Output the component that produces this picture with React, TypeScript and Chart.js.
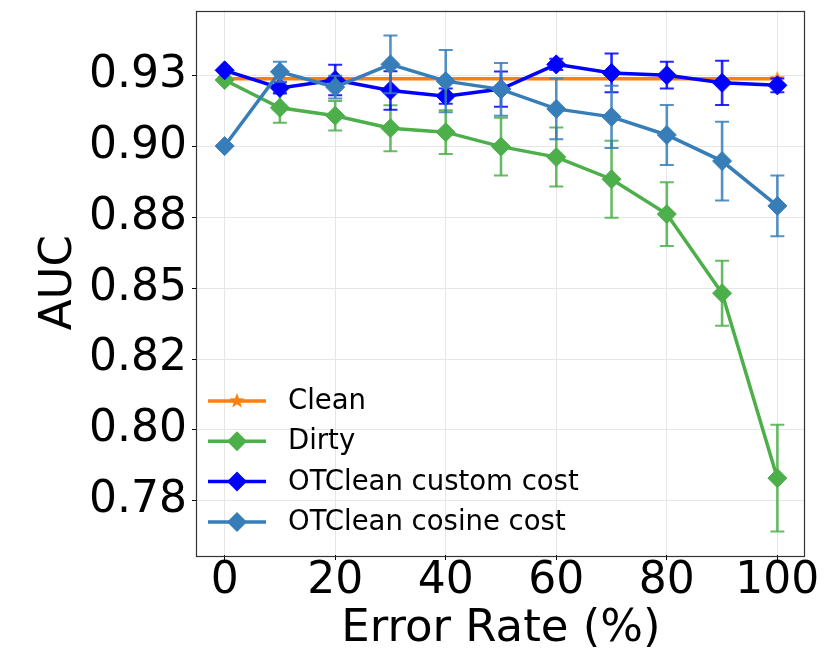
import React, { useEffect, useRef } from "react";
import { Chart, registerables } from "chart.js";

Chart.register(...registerables);

// ---------- data ----------
const errorRates = [0, 10, 20, 30, 40, 50, 60, 70, 80, 90, 100];

const cleanX = [0, 100];
const cleanAUC = [0.9238, 0.9238];

const dirtyAUC = [0.9234, 0.9136, 0.9108, 0.9064, 0.905, 0.8999, 0.8962, 0.8884, 0.8761, 0.8482, 0.783];
const dirtyErr = [0.0, 0.0053, 0.0052, 0.0081, 0.0077, 0.0102, 0.0104, 0.0136, 0.0112, 0.0115, 0.0188];

const customAUC = [0.9268, 0.9206, 0.9234, 0.9197, 0.9177, 0.9202, 0.9289, 0.9259, 0.9251, 0.9224, 0.9215];
const customErr = [0.0, 0.002, 0.0054, 0.0068, 0.0027, 0.0062, 0.002, 0.0068, 0.0047, 0.0078, 0.0024];

const cosineAUC = [0.9001, 0.9263, 0.9209, 0.9289, 0.923, 0.9201, 0.9132, 0.9104, 0.904, 0.8948, 0.879];
const cosineErr = [0.0, 0.0035, 0.004, 0.0102, 0.011, 0.0093, 0.0107, 0.011, 0.0106, 0.0139, 0.0107];

const seriesNames = ["Clean", "Dirty", "OTClean custom cost", "OTClean cosine cost"];
const seriesColors = ["#ff7f0e", "#4daf4a", "#0000ff", "#377eb8"];

const xTickValues = [0, 20, 40, 60, 80, 100];
const yTickValues = [0.775, 0.8, 0.825, 0.85, 0.875, 0.9, 0.925];
const yTickLabels = ["0.78", "0.80", "0.82", "0.85", "0.88", "0.90", "0.93"];

const xTitle = "Error Rate (%)";
const yTitle = "AUC";

const FONT = "'DejaVu Sans', sans-serif";

function makeStar(color: string, r: number): HTMLCanvasElement {
  const size = Math.ceil(r * 2 + 2);
  const c = document.createElement("canvas");
  c.width = size;
  c.height = size;
  const ctx = c.getContext("2d")!;
  ctx.beginPath();
  for (let i = 0; i < 10; i++) {
    const ang = -Math.PI / 2 + (i * Math.PI) / 5;
    const rr = i % 2 === 0 ? r : r * 0.42;
    ctx.lineTo(size / 2 + rr * Math.cos(ang), size / 2 + rr * Math.sin(ang));
  }
  ctx.closePath();
  ctx.fillStyle = color;
  ctx.fill();
  return c;
}

const errorBarPlugin = {
  id: "errorBars",
  beforeDatasetDraw(chart: any, args: any) {
    const ds: any = chart.data.datasets[args.index];
    if (!ds.errors) return;
    const ctx = chart.ctx;
    const xs = chart.scales.x;
    const ys = chart.scales.y;
    ctx.save();
    ctx.strokeStyle = ds.borderColor;
    ctx.globalAlpha = 0.85;
    ds.data.forEach((p: any, i: number) => {
      const e = ds.errors[i];
      if (!e) return;
      const px = xs.getPixelForValue(p.x);
      const top = ys.getPixelForValue(p.y + e);
      const bot = ys.getPixelForValue(p.y - e);
      ctx.lineWidth = 2.6;
      ctx.beginPath();
      ctx.moveTo(px, top);
      ctx.lineTo(px, bot);
      ctx.stroke();
      ctx.lineWidth = 2;
      ctx.beginPath();
      ctx.moveTo(px - 7, top);
      ctx.lineTo(px + 7, top);
      ctx.moveTo(px - 7, bot);
      ctx.lineTo(px + 7, bot);
      ctx.stroke();
    });
    ctx.restore();
  },
};

const legendPlugin = {
  id: "mplLegend",
  afterDatasetsDraw(chart: any) {
    const { ctx, chartArea } = chart;
    const x0 = chartArea.left + 11;
    const x1 = chartArea.left + 69;
    const xm = (x0 + x1) / 2;
    const textX = chartArea.left + 91;
    const yStart = chartArea.bottom - 154;
    const step = 40.3;
    ctx.save();
    chart.data.datasets.forEach((ds: any, i: number) => {
      const y = yStart + i * step;
      ctx.strokeStyle = ds.borderColor;
      ctx.lineWidth = 3.5;
      ctx.beginPath();
      ctx.moveTo(x0, y);
      ctx.lineTo(x1, y);
      ctx.stroke();
      if (ds.pointStyle && typeof ds.pointStyle === "object") {
        const img = ds.pointStyle as HTMLCanvasElement;
        ctx.drawImage(img, xm - img.width / 2, y - img.height / 2);
      } else {
        const r = 10;
        ctx.fillStyle = ds.borderColor;
        ctx.beginPath();
        ctx.moveTo(xm - r, y);
        ctx.lineTo(xm, y - r);
        ctx.lineTo(xm + r, y);
        ctx.lineTo(xm, y + r);
        ctx.closePath();
        ctx.fill();
      }
      ctx.fillStyle = "#000";
      ctx.font = `27.5px ${FONT}`;
      ctx.textBaseline = "middle";
      ctx.textAlign = "left";
      ctx.fillText(ds.label, textX, y + 1);
    });
    ctx.restore();
  },
};

const framePlugin = {
  id: "frame",
  afterDraw(chart: any) {
    const { ctx, chartArea } = chart;
    ctx.save();
    ctx.strokeStyle = "#333";
    ctx.lineWidth = 1.2;
    ctx.strokeRect(
      Math.round(chartArea.left) - 0.5,
      Math.round(chartArea.top) + 0.5,
      Math.round(chartArea.right - chartArea.left),
      Math.round(chartArea.bottom - chartArea.top)
    );
    ctx.restore();
  },
};

export default function App() {
  const canvasRef = useRef<HTMLCanvasElement | null>(null);

  useEffect(() => {
    if (!canvasRef.current) return;
    const star = makeStar(seriesColors[0], 8);
    const mk = (xs: number[], ys: number[]) => xs.map((x, i) => ({ x, y: ys[i] }));
    const lineCommon = {
      borderWidth: 3.5,
      tension: 0,
      fill: false,
      pointRadius: 9.5,
      pointBorderWidth: 1,
      pointHoverRadius: 9.5,
    };
    const chart = new Chart(canvasRef.current, {
      type: "line",
      data: {
        datasets: [
          {
            ...lineCommon,
            label: seriesNames[0],
            data: mk(cleanX, cleanAUC),
            borderColor: seriesColors[0],
            backgroundColor: seriesColors[0],
            pointStyle: star as any,
            order: 4,
          },
          {
            ...lineCommon,
            label: seriesNames[1],
            data: mk(errorRates, dirtyAUC),
            errors: dirtyErr,
            borderColor: seriesColors[1],
            backgroundColor: seriesColors[1],
            pointBackgroundColor: seriesColors[1],
            pointBorderColor: seriesColors[1],
            pointStyle: "rectRot",
            order: 3,
          } as any,
          {
            ...lineCommon,
            label: seriesNames[2],
            data: mk(errorRates, customAUC),
            errors: customErr,
            borderColor: seriesColors[2],
            backgroundColor: seriesColors[2],
            pointBackgroundColor: seriesColors[2],
            pointBorderColor: seriesColors[2],
            pointStyle: "rectRot",
            order: 2,
          } as any,
          {
            ...lineCommon,
            label: seriesNames[3],
            data: mk(errorRates, cosineAUC),
            errors: cosineErr,
            borderColor: seriesColors[3],
            backgroundColor: seriesColors[3],
            pointBackgroundColor: seriesColors[3],
            pointBorderColor: seriesColors[3],
            pointStyle: "rectRot",
            order: 1,
          } as any,
        ],
      },
      options: {
        animation: false,
        responsive: false,
        devicePixelRatio: 1,
        layout: { padding: { top: 9, right: 25, left: 0, bottom: 0 } },
        plugins: {
          legend: { display: false },
          tooltip: { enabled: false },
        },
        scales: {
          x: {
            type: "linear",
            min: -5,
            max: 105,
            afterBuildTicks: (s: any) => {
              s.ticks = xTickValues.map((v) => ({ value: v }));
            },
            afterFit: (s: any) => {
              s.height = 109;
              s.paddingLeft = 0;
              s.paddingRight = 0;
            },
            ticks: {
              autoSkip: false,
              maxRotation: 0,
              color: "#000",
              padding: -5,
              font: { family: FONT, size: 44 },
              callback: (v: any) => String(v),
            },
            grid: { color: "#e6e6e6", lineWidth: 1, tickLength: 5, tickColor: "#000", drawTicks: true },
            border: { display: false },
            title: {
              display: true,
              text: xTitle,
              color: "#000",
              font: { family: FONT, size: 45 },
              padding: { top: 0, bottom: 8 },
            },
          },
          y: {
            type: "linear",
            min: 0.7559,
            max: 0.9479,
            afterBuildTicks: (s: any) => {
              s.ticks = yTickValues.map((v) => ({ value: v }));
            },
            afterFit: (s: any) => {
              s.width = 197;
              s.paddingTop = 0;
              s.paddingBottom = 0;
            },
            ticks: {
              autoSkip: false,
              color: "#000",
              padding: 5,
              font: { family: FONT, size: 44 },
              callback: (_v: any, i: number) => yTickLabels[i],
            },
            grid: { color: "#e6e6e6", lineWidth: 1, tickLength: 5, tickColor: "#000", drawTicks: true },
            border: { display: false },
            title: {
              display: true,
              text: yTitle,
              color: "#000",
              font: { family: FONT, size: 45 },
              padding: { top: 32, bottom: 0 },
            },
          },
        },
      } as any,
      plugins: [errorBarPlugin, legendPlugin, framePlugin],
    });
    return () => chart.destroy();
  }, []);

  return (
    <div style={{ position: "fixed", left: 0, top: 0, width: 830, height: 664, background: "#fff" }}>
      <canvas ref={canvasRef} width={830} height={664} style={{ width: 830, height: 664, display: "block" }} />
    </div>
  );
}
